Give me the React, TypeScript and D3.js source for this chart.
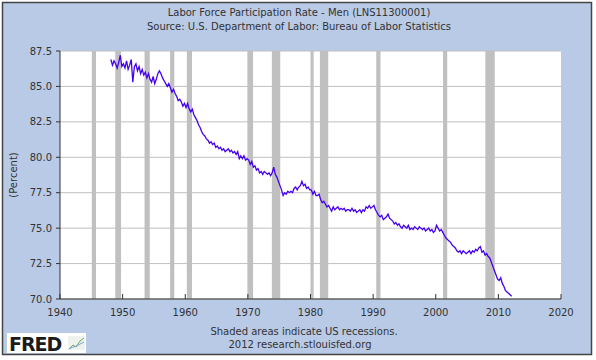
import * as d3 from "d3";

const title = "Labor Force Participation Rate - Men (LNS11300001)";
const subtitle = "Source: U.S. Department of Labor: Bureau of Labor Statistics";
const yLabel = "(Percent)";
const footnote = "Shaded areas indicate US recessions.";
const credit = "2012 research.stlouisfed.org";

// quarterly readings, starting at Q1 1948
const firstYear = 1948;
const participation = [
  86.9, 86.5, 86.8, 86.6, // 1948
  86.3, 86.7, 87.2, 86.4,
  86.6, 86.3, 86.8, 86.2, // 1950
  86.5, 86.9, 85.3, 86.4,
  86.6, 86.1, 86.4, 85.9,
  86.2, 85.8, 86.0, 85.6,
  85.9, 85.5, 85.3, 85.7,
  85.2, 85.5, 85.9, 86.1, // 1955
  85.9, 85.6, 85.4, 85.2,
  85.0, 85.2, 84.9, 84.6,
  84.8, 84.5, 84.3, 84.0,
  84.1, 83.9, 83.6, 83.8,
  83.5, 83.8, 83.4, 83.2, // 1960
  83.4, 83.0, 82.8, 82.6,
  82.3, 82.1, 81.8, 81.6,
  81.5, 81.3, 81.2, 81.0,
  81.1, 80.9, 81.0, 80.7,
  80.8, 80.6, 80.7, 80.5, // 1965
  80.6, 80.4, 80.5, 80.6,
  80.4, 80.5, 80.3, 80.4,
  80.2, 80.4, 79.9, 80.1,
  79.9, 80.1, 79.8, 79.9,
  79.8, 79.5, 79.7, 79.3, // 1970
  79.4, 79.1, 79.2, 78.9,
  79.0, 78.8, 79.0, 78.9,
  78.8, 78.9, 78.7, 78.9,
  79.3, 78.8, 78.6, 78.3,
  78.0, 77.7, 77.3, 77.5, // 1975
  77.4, 77.6, 77.5, 77.6,
  77.5, 77.8, 77.9, 77.7,
  77.9, 78.0, 78.3, 78.0,
  78.1, 77.8, 77.9, 77.7,
  77.7, 77.4, 77.6, 77.3, // 1980
  77.3, 77.4, 77.0, 76.8,
  76.9, 76.7, 76.5, 76.6,
  76.4, 76.2, 76.5, 76.3,
  76.4, 76.5, 76.3, 76.4,
  76.3, 76.4, 76.2, 76.3, // 1985
  76.3, 76.2, 76.4, 76.2,
  76.3, 76.1, 76.2, 76.3,
  76.1, 76.3, 76.2, 76.5,
  76.4, 76.6, 76.4, 76.5,
  76.6, 76.3, 76.1, 75.9, // 1990
  75.8, 75.9, 75.6, 75.7,
  75.8, 76.0, 75.7, 75.6,
  75.5, 75.3, 75.4, 75.2,
  75.3, 75.1, 75.0, 75.2,
  75.1, 75.0, 75.2, 74.9, // 1995
  75.0, 74.9, 75.1, 75.0,
  74.9, 75.1, 75.0, 74.9,
  75.0, 74.8, 74.9, 75.0,
  74.8, 74.9, 74.7, 74.8,
  75.2, 75.0, 74.8, 74.9, // 2000
  74.7, 74.5, 74.3, 74.2,
  74.1, 74.0, 73.8, 73.7,
  73.6, 73.4, 73.3, 73.4,
  73.2, 73.4, 73.3, 73.2,
  73.3, 73.4, 73.2, 73.4, // 2005
  73.3, 73.5, 73.4, 73.6,
  73.7, 73.3, 73.4, 73.1,
  73.2, 73.0, 72.9, 72.6,
  72.3, 72.0, 71.7, 71.4,
  71.3, 71.5, 71.1, 70.9, // 2010
  70.6, 70.5, 70.4, 70.3,
  70.2,
];

// NBER recessions, decimal years
const recessionStarts = [1945.08, 1948.83, 1953.5, 1957.58, 1960.25, 1969.92, 1973.83, 1980.0, 1981.5, 1990.5, 2001.17, 2007.92];
const recessionEnds = [1945.75, 1949.75, 1954.33, 1958.25, 1961.08, 1970.83, 1975.17, 1980.5, 1982.83, 1991.17, 2001.83, 2009.42];

const yearTicks = [1940, 1950, 1960, 1970, 1980, 1990, 2000, 2010, 2020];
const rateTicks = [70, 72.5, 75, 77.5, 80, 82.5, 85, 87.5];

const W = 596;
const H = 360;
const plot = { left: 60, right: 561, top: 51, bottom: 299 };
const font = "'DejaVu Sans', Verdana, sans-serif";
const textColor = "#333";

export default function App() {
  const x = d3.scaleLinear().domain([1940, 2020]).range([plot.left, plot.right]);
  const y = d3.scaleLinear().domain([70, 87.5]).range([plot.bottom, plot.top]);

  const points = participation.map((v, i) => ({ t: firstYear + i / 4 + 0.125, v }));
  const line = d3
    .line<{ t: number; v: number }>()
    .x((d) => x(d.t))
    .y((d) => y(d.v));

  return (
    <svg
      width={W}
      height={H}
      style={{ position: "absolute", left: 0, top: 0, fontFamily: font }}
    >
      <rect x={0} y={0} width={W} height={H} fill="#fff" />
      <rect x={2.5} y={2.5} width={589} height={352} fill="#b8cae6" stroke="#444" strokeWidth={1.5} />

      <text x={299} y={16} textAnchor="middle" fontSize={10} fill={textColor}>
        {title}
      </text>
      <text x={299} y={30} textAnchor="middle" fontSize={10} fill={textColor}>
        {subtitle}
      </text>

      {/* plot area */}
      <rect
        x={plot.left}
        y={plot.top}
        width={plot.right - plot.left}
        height={plot.bottom - plot.top}
        fill="#fff"
      />

      {recessionStarts.map((s, i) => (
        <rect
          key={"r" + i}
          x={x(s)}
          y={plot.top}
          width={x(recessionEnds[i]) - x(s)}
          height={plot.bottom - plot.top}
          fill="#c0c0c0"
        />
      ))}

      {rateTicks.map((t) => (
        <line
          key={"g" + t}
          x1={plot.left}
          x2={plot.right}
          y1={y(t)}
          y2={y(t)}
          stroke="#c0c0c0"
          strokeWidth={1}
        />
      ))}

      <path d={line(points) ?? ""} fill="none" stroke="#4400ee" strokeWidth={1.3} />

      {/* axes */}
      <line x1={plot.left} x2={plot.left} y1={plot.top} y2={plot.bottom} stroke="#333" />
      <line x1={plot.left} x2={plot.right} y1={plot.bottom} y2={plot.bottom} stroke="#333" />
      {rateTicks.map((t) => (
        <g key={"yt" + t}>
          <line x1={plot.left - 4} x2={plot.left} y1={y(t)} y2={y(t)} stroke="#333" />
          <text
            x={plot.left - 8}
            y={y(t) + 3.5}
            textAnchor="end"
            fontSize={10}
            fill={textColor}
          >
            {t.toFixed(1)}
          </text>
        </g>
      ))}
      {yearTicks.map((t) => (
        <g key={"xt" + t}>
          <line x1={x(t)} x2={x(t)} y1={plot.bottom} y2={plot.bottom - 5} stroke="#333" />
          <text x={x(t)} y={plot.bottom + 17} textAnchor="middle" fontSize={10} fill={textColor}>
            {t}
          </text>
        </g>
      ))}

      <text
        transform={`translate(17,175) rotate(-90)`}
        textAnchor="middle"
        fontSize={10}
        fill={textColor}
      >
        {yLabel}
      </text>

      <text x={304} y={335} textAnchor="middle" fontSize={10} fill={textColor}>
        {footnote}
      </text>
      <text x={300} y={348} textAnchor="middle" fontSize={10} fill={textColor}>
        {credit}
      </text>

      {/* FRED logo */}
      <rect x={7} y={333} width={79} height={20} fill="#fff" />
      <text x={9} y={351} fontSize={19} fontWeight={900} fill="#1b1b1b" letterSpacing={-1}>
        FRED
      </text>
      <rect x={68} y={336} width={17} height={14} fill="#eef2ee" />
      <polyline points="69,349 73,345 76,347 80,341 84,338" fill="none" stroke="#6cae5a" strokeWidth={1} />
      <polyline points="69,349 73,347 77,346 80,344 84,342" fill="none" stroke="#7f9fd0" strokeWidth={1} />
    </svg>
  );
}
